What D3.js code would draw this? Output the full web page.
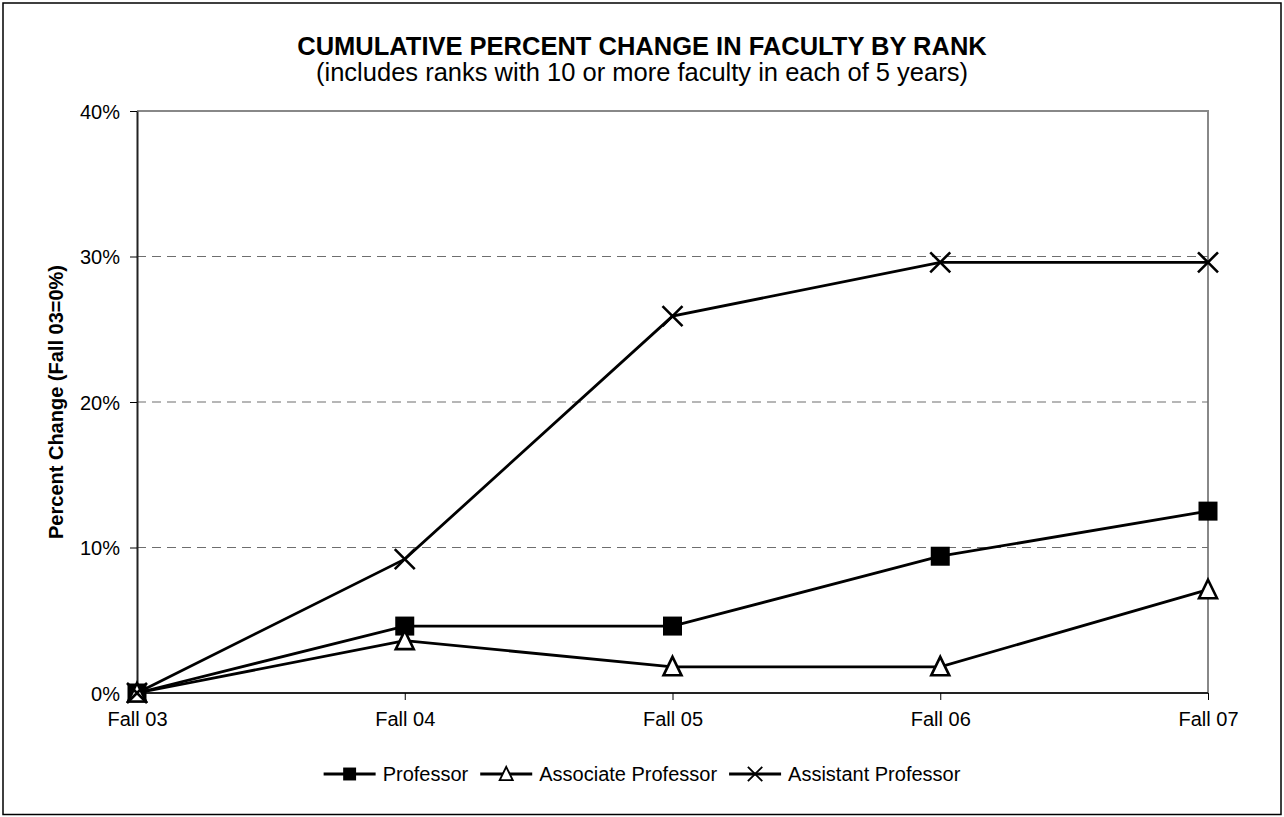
<!DOCTYPE html>
<html>
<head>
<meta charset="utf-8">
<script src="https://cdn.jsdelivr.net/npm/d3@7"></script>
<style>
  body { margin: 0; background: #fff; }
  text { font-family: "Liberation Sans", Arial, sans-serif; fill: #000; }
</style>
</head>
<body>
<div id="chart"></div>
<script>
// data
const years = ["Fall 03", "Fall 04", "Fall 05", "Fall 06", "Fall 07"];
const professor = [0, 4.6, 4.6, 9.4, 12.5];
const associate = [0, 3.6, 1.8, 1.8, 7.1];
const assistant = [0, 9.2, 25.9, 29.6, 29.6];
const yTicks = [0, 10, 20, 30, 40];

const series = [
    {name: "Professor", values: professor, marker: "square"},
    {name: "Associate Professor", values: associate, marker: "triangle"},
    {name: "Assistant Professor", values: assistant, marker: "cross"}
];

const W = 1284, H = 817;
const margin = {top: 111, right: 76, bottom: 124, left: 137};
const width = W - margin.left - margin.right,
    height = H - margin.top - margin.bottom;

const svg = d3.select("#chart").append("svg")
    .attr("width", W)
    .attr("height", H);

// outer frame
svg.append("rect")
    .attr("x", 3).attr("y", 3)
    .attr("width", W - 6).attr("height", H - 5.5)
    .attr("fill", "none").attr("stroke", "#000").attr("stroke-width", 1.5);

// titles
svg.append("text")
    .attr("x", 642).attr("y", 55)
    .attr("text-anchor", "middle")
    .style("font-size", "25.5px").style("font-weight", "bold")
    .text("CUMULATIVE PERCENT CHANGE IN FACULTY BY RANK");
svg.append("text")
    .attr("x", 642).attr("y", 81)
    .attr("text-anchor", "middle")
    .style("font-size", "25.5px")
    .text("(includes ranks with 10 or more faculty in each of 5 years)");

const g = svg.append("g")
    .attr("transform", "translate(" + margin.left + "," + margin.top + ")");

const x = d3.scalePoint()
    .domain(years)
    .range([0, width]);

const y = d3.scaleLinear()
    .domain([0, 40])
    .range([height, 0]);

// gray top and right border of plot area
g.append("path")
    .attr("d", "M0,0H" + width + "V" + height)
    .attr("fill", "none").attr("stroke", "#888").attr("stroke-width", 2);

// dashed gridlines
g.selectAll(".grid")
    .data(yTicks.filter(d => d > 0 && d < 40))
    .enter().append("line")
    .attr("x1", 0).attr("x2", width)
    .attr("y1", d => y(d)).attr("y2", d => y(d))
    .attr("stroke", "#6e6e6e").attr("stroke-width", 1.2)
    .attr("stroke-dasharray", "9,6");

// axes
const yAxis = g.append("g")
    .call(d3.axisLeft(y).tickValues(yTicks).tickFormat(d => d + "%").tickSize(7).tickSizeOuter(0).tickPadding(10));
const xAxis = g.append("g")
    .attr("transform", "translate(0," + height + ")")
    .call(d3.axisBottom(x).tickSize(7).tickSizeOuter(0).tickPadding(12));

[yAxis, xAxis].forEach(a => {
    a.select(".domain").attr("stroke", "#222").attr("stroke-width", 2);
    a.selectAll(".tick line").attr("stroke", "#000").attr("stroke-width", 1);
    a.selectAll("text").style("font-size", "20px").attr("fill", "#000")
        .style("font-family", "'Liberation Sans', Arial, sans-serif");
});
yAxis.selectAll("text").attr("dy", "0.35em");
xAxis.select(".domain").attr("d", "M0,0H" + width);

// y axis title
svg.append("text")
    .attr("transform", "translate(63,402) rotate(-90)")
    .attr("text-anchor", "middle")
    .style("font-size", "20px").style("font-weight", "bold")
    .text("Percent Change (Fall 03=0%)");

const line = d3.line()
    .x((d, i) => x(years[i]))
    .y(d => y(d));

function drawMarker(sel, type) {
    if (type === "square") {
        sel.append("rect")
            .attr("x", -9.5).attr("y", -9.5).attr("width", 19).attr("height", 19)
            .attr("fill", "#000");
    } else if (type === "triangle") {
        sel.append("path")
            .attr("d", "M0,-10L9,8.5L-9,8.5Z")
            .attr("fill", "#fff").attr("stroke", "#000").attr("stroke-width", 2.6);
    } else {
        sel.append("path")
            .attr("d", "M-10,-10L10,10M-10,10L10,-10")
            .attr("fill", "none").attr("stroke", "#000").attr("stroke-width", 2.6);
    }
}

series.forEach(s => {
    g.append("path")
        .datum(s.values)
        .attr("d", line)
        .attr("fill", "none").attr("stroke", "#000").attr("stroke-width", 2.8);
});
series.forEach(s => {
    g.selectAll(".m-" + s.marker)
        .data(s.values)
        .enter().append("g")
        .attr("class", "m-" + s.marker)
        .attr("transform", (d, i) => "translate(" + x(years[i]) + "," + y(d) + ")")
        .each(function() { drawMarker(d3.select(this), s.marker); });
});

// legend, centred under the chart
const lineLen = 52, gapText = 7, gapItem = 12;
const legend = svg.append("g").attr("transform", "translate(0,774)");
let cursor = 0;
series.forEach((s, i) => {
    const item = legend.append("g").attr("transform", "translate(" + cursor + ",0)");
    item.append("line")
        .attr("x1", 0).attr("x2", lineLen)
        .attr("stroke", "#000").attr("stroke-width", 2.8);
    const m = item.append("g")
        .attr("transform", "translate(" + lineLen / 2 + ",0) scale(" + (s.marker === "square" ? 0.68 : 0.72) + ")");
    drawMarker(m, s.marker);
    const t = item.append("text")
        .attr("x", lineLen + gapText).attr("dy", "0.35em")
        .style("font-size", "20px")
        .text(s.name);
    cursor += lineLen + gapText + t.node().getComputedTextLength() + gapItem;
});
const legendWidth = cursor - gapItem;
legend.attr("transform", "translate(" + (642 - legendWidth / 2) + ",774)");
</script>
</body>
</html>
